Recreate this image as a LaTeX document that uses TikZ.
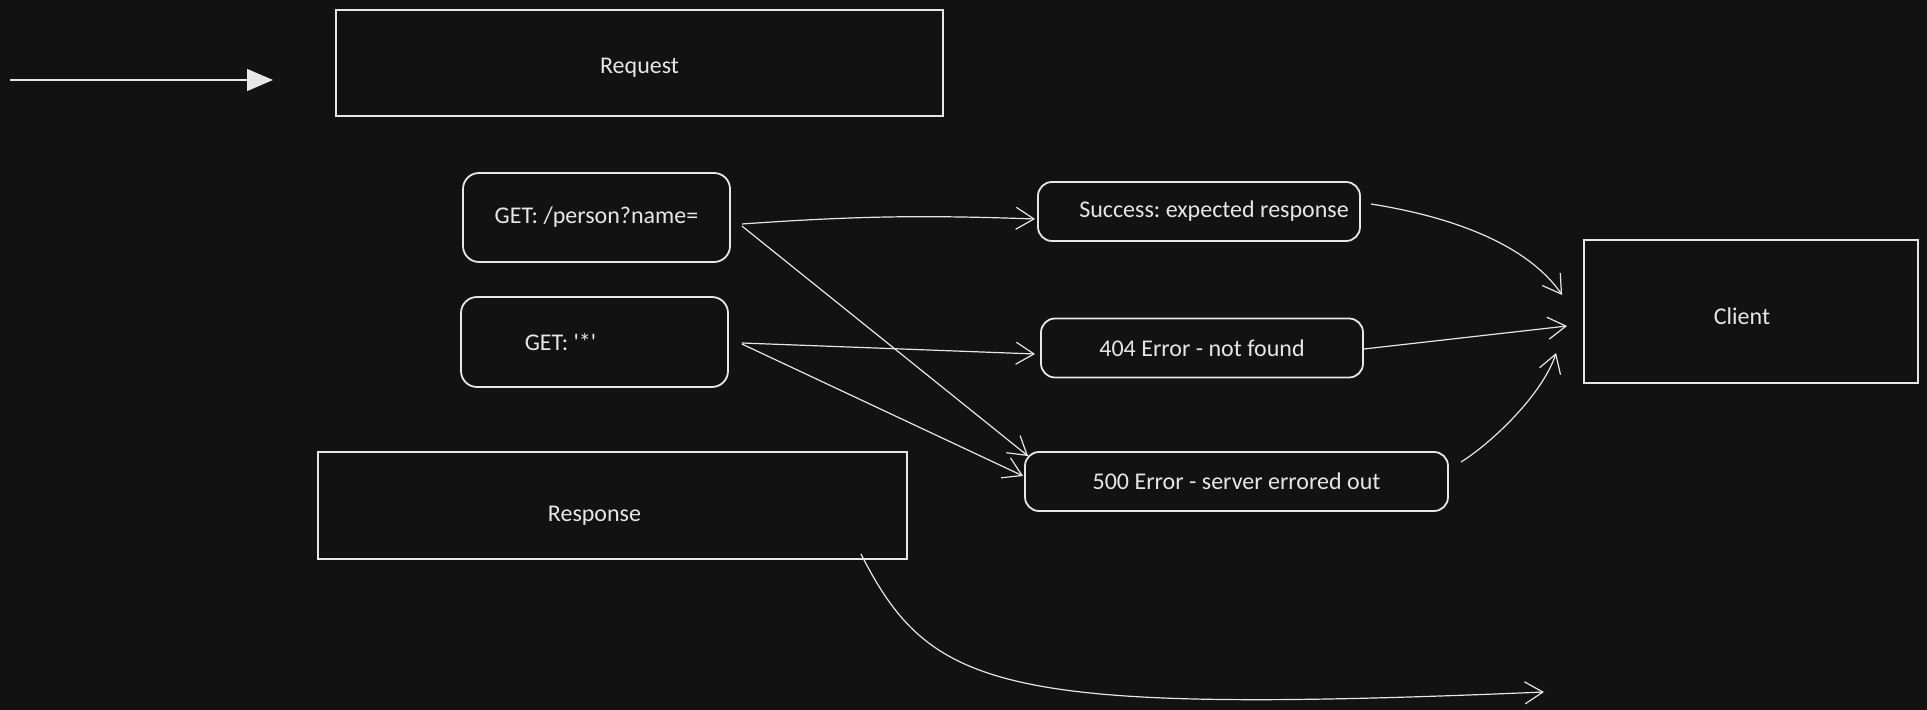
\documentclass[tikz,border=0pt]{standalone}
\usepackage{fontspec}
\setmainfont{Carlito}
\usetikzlibrary{calc}
\usetikzlibrary{positioning, arrows.meta}
\definecolor{canvasbg}{HTML}{121212}
\definecolor{sketch}{HTML}{E6E6E6}
\frenchspacing

\begin{document}
\begin{tikzpicture}[x=0.5pt, y=-0.5pt, font=\fontsize{12}{14}\selectfont]
        % Define styles for shapes
        \tikzstyle{frame} = [draw=sketch, line width=0.9pt, text=sketch, inner sep=0pt]
        \tikzstyle{routebox} = [frame, rounded corners=8pt, minimum width=133.5pt]
        \tikzstyle{outcome} = [frame, rounded corners=7pt, minimum height=29.5pt]
        \tikzstyle{link} = [draw=sketch, line width=0.6pt, -{Straight Barb[length=9pt,width=11pt]}]
        % Background
        \path[use as bounding box, fill=canvasbg] (0,0) rectangle (1927,710);
        % Draw shapes
        \node[frame, minimum width=303.5pt, minimum height=53pt, text height=13pt, text depth=2.5pt] (request) at (639.5,63) {Request};
        \node[routebox, minimum height=44.5pt] (getperson) at (596.5,217.5) {GET: /person?name=};
        \node[routebox, minimum height=45pt] (getall) at (594.5,342) {\hspace*{-34pt}GET: \textquotesingle{}*\textquotesingle{}};
        \node[frame, minimum width=294.5pt, minimum height=53.5pt, text height=18.6pt, text depth=2.5pt] (response) at (612.5,505.5) {\hspace*{-18pt}Response};
        \node[outcome, minimum width=161pt] (success) at (1199,211.5) {\hspace*{15pt}Success: expected response};
        \node[outcome, minimum width=161pt] (notfound) at (1202,348) {404 Error - not found};
        \node[outcome, minimum width=211.5pt] (servererr) at (1236.5,481.5) {500 Error - server errored out};
        \node[frame, minimum width=167pt, minimum height=71.5pt, text height=15.6pt, text depth=2.5pt] (client) at (1751,311.5) {\hspace*{-9pt}Client};

        % Draw arrows
        \coordinate (entry) at (10,80);
        \coordinate (entryend) at (273,80);
        \draw[draw=sketch, line width=0.6pt, -{Triangle[length=13pt,width=11pt]}] (entry) -- (entryend);
        % routes to the outcomes
        \draw[link] ($(getperson.east)+(11,6.5)$) to[bend left=3] ($(success.west)+(-2,7.5)$);
        \draw[link] ($(getperson.east)+(11,8.5)$) -- ($(servererr.north west)+(4,5)$);
        \draw[link] ($(getall.east)+(13,1)$) -- ($(notfound.west)+(-5,6)$);
        \draw[link] ($(getall.east)+(13,2)$) -- ($(servererr.west)+(-1,-5.5)$);
        % outcomes to the client
        \draw[link] ($(success.east)+(10,-7.5)$) .. controls +(70,11) and +(-38,-55) .. ($(client.west)+(-21,-16.5)$);
        \draw[link] ($(notfound.east)+(0,1)$) -- ($(client.west)+(-16,14.5)$);
        \draw[link] ($(servererr.east)+(12,-19.5)$) .. controls +(25,-15) and +(-15,45) .. ($(client.west)+(-27,41.5)$);
        % line out of the response
        \coordinate (handoff) at (1544,692);
        \draw[link] ($(response.south east)+(-47,-6)$) .. controls +(70,137) and +(-544,23) .. (handoff);
    \end{tikzpicture}
\end{document}
